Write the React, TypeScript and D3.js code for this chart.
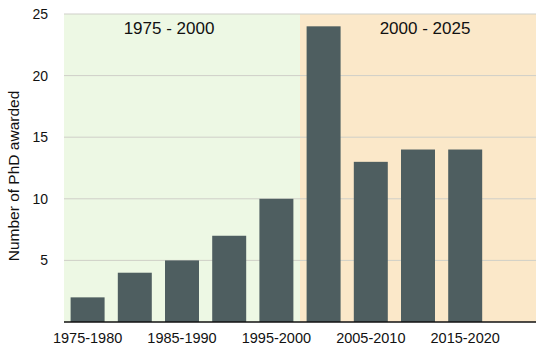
import React from "react"
import * as d3 from "d3"

const periods = ["1975-1980", "1980-1985", "1985-1990", "1990-1995", "1995-2000",
    "2000-2005", "2005-2010", "2010-2015", "2015-2020", "2020-2025"]
const phds = [2, 4, 5, 7, 10, 24, 13, 14, 14]
const yTicks = [5, 10, 15, 20, 25]
const shownLabels = ["1975-1980", "1985-1990", "1995-2000", "2005-2010", "2015-2020"]
const eras = [
    {label: "1975 - 2000", from: "1975-1980", to: "1995-2000", color: "#edf8e4"},
    {label: "2000 - 2025", from: "2000-2005", to: "2020-2025", color: "#fbe8c9"},
]

const W = 554, H = 357
const margin = {top: 14, right: 18, bottom: 35, left: 64}

const App = () => {
    const width = W - margin.left - margin.right
    const height = H - margin.top - margin.bottom

    const x = d3.scaleBand().domain(periods).range([0, width]).paddingInner(0.28).paddingOuter(0.14)
    const step = x.step()
    const y = d3.scaleLinear().domain([0, 25]).range([height, 0])

    // era backgrounds cover whole bands
    const bandLeft = (p: string) => x(p)! - (step - x.bandwidth()) / 2
    const eraRect = (e: typeof eras[0]) => {
        const x0 = e.from === periods[0] ? 0 : bandLeft(e.from)
        const x1 = e.to === periods[periods.length - 1] ? width : bandLeft(e.to) + step
        return [x0, x1]
    }
    // titles sit a bit off-centre in the original
    const titleShift = [-13, 7]

    const font = "'Liberation Sans', Arial, Helvetica, sans-serif"

    return (
        <div style={{position: "fixed", left: 0, top: 0, background: "#fff"}}>
            <svg width={W} height={H} style={{display: "block"}} fontFamily={font}>
                <g transform={`translate(${margin.left},${margin.top})`}>
                    {eras.map((e, i) => {
                        const [x0, x1] = eraRect(e)
                        return (
                            <g key={e.label}>
                                <rect x={x0} y={0} width={x1 - x0} height={height} fill={e.color}/>
                                <text x={(x0 + x1) / 2 + titleShift[i]} y={20} textAnchor="middle" fontSize={17}
                                      fill="#111">{e.label}</text>
                            </g>
                        )
                    })}
                    {yTicks.map(t => (
                        <g key={t}>
                            <line x1={0} x2={width} y1={y(t)} y2={y(t)} stroke="#cfcfc8" strokeWidth={1}/>
                            <text x={-16} y={y(t)} dy="0.35em" textAnchor="end" fontSize={14} fill="#111">{t}</text>
                        </g>
                    ))}
                    {phds.map((v, i) => (
                        <rect key={periods[i]} x={x(periods[i])} y={y(v)} width={x.bandwidth()}
                              height={height - y(v)} fill="#4e5e60"/>
                    ))}
                    <line x1={0} x2={width} y1={height} y2={height} stroke="#111" strokeWidth={1.5}/>
                    {shownLabels.map(p => (
                        <text key={p} x={x(p)! + x.bandwidth() / 2} y={height + 21} textAnchor="middle"
                              fontSize={14.5} fill="#111">{p}</text>
                    ))}
                </g>
                <text transform={`translate(19,${margin.top + height / 2 + 8}) rotate(-90)`} textAnchor="middle"
                      fontSize={15.5} fill="#111">Number of PhD awarded</text>
            </svg>
        </div>
    )
}

export default App
